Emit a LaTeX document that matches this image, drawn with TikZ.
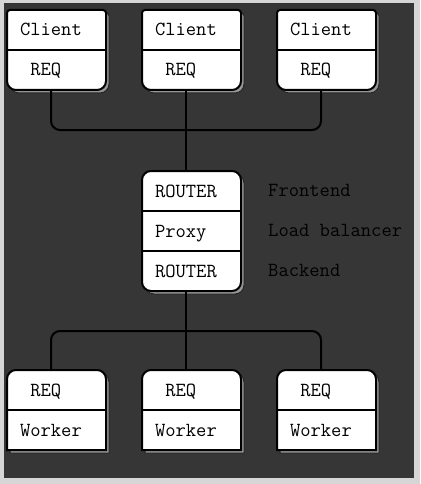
\documentclass[tikz,border=0pt]{standalone}
\usepackage{fontspec}
\usepackage{tikz}
\definecolor{panel}{HTML}{363636}
\definecolor{margin}{HTML}{D6D6D6}
\definecolor{drop}{HTML}{969696}
\tikzset{
  cell/.style={anchor=north west, inner xsep=13pt, inner ysep=0pt, outer sep=0pt,
    text width=73pt, align=left, minimum height=40pt, text height=12pt, text depth=0pt,
    font=\fontsize{20}{24}\selectfont\ttfamily},
  note/.style={anchor=base west, inner sep=0pt, font=\fontsize{20}{24}\selectfont\ttfamily},
  box/.style={fill=white, draw=black, line width=2pt,
    preaction={fill=drop, draw=black!85, line width=1pt, transform canvas={shift={(3pt,-3pt)}}}},
  rule/.style={draw=black, line width=2pt},
  wire/.style={draw=black, line width=2pt, rounded corners=9pt},
}

\begin{document}
\begin{tikzpicture}[x=1pt,y=-1pt]
\fill[margin] (0,0) rectangle (420,484);
\fill[panel] (4,4) rectangle (414,478);
\draw[black!80, line width=1pt] (4,4) -- (414,4);

% clients
\coordinate (c1) at (7,10);
\coordinate (c2) at (142,10);
\coordinate (c3) at (277,10);
\draw[box] (c1) ++(0,40) [rounded corners=3pt] -- ++(0,-40) -- ++(99,0) -- ++(0,40) [rounded corners=9pt] -- ++(0,40) -- ++(-99,0) -- cycle;
\draw[box] (c2) ++(0,40) [rounded corners=3pt] -- ++(0,-40) -- ++(99,0) -- ++(0,40) [rounded corners=9pt] -- ++(0,40) -- ++(-99,0) -- cycle;
\draw[box] (c3) ++(0,40) [rounded corners=3pt] -- ++(0,-40) -- ++(99,0) -- ++(0,40) [rounded corners=9pt] -- ++(0,40) -- ++(-99,0) -- cycle;
\node[cell] (c1a) at (c1) {Client};
\node[cell] (c1b) at (c1a.south west) {\phantom{C}REQ};
\node[cell] (c2a) at (c2) {Client};
\node[cell] (c2b) at (c2a.south west) {\phantom{C}REQ};
\node[cell] (c3a) at (c3) {Client};
\node[cell] (c3b) at (c3a.south west) {\phantom{C}REQ};
\draw[rule] (c1a.south west) -- (c1a.south east);
\draw[rule] (c2a.south west) -- (c2a.south east);
\draw[rule] (c3a.south west) -- (c3a.south east);

% router
\coordinate (r) at (142,171);
\draw[box, rounded corners=9pt] (r) rectangle ++(99,120);
\node[cell] (r1) at (r) {ROUTER};
\node[cell] (r2) at (r1.south west) {Proxy};
\node[cell] (r3) at (r2.south west) {ROUTER};
\draw[rule] (r1.south west) -- (r1.south east);
\draw[rule] (r2.south west) -- (r2.south east);
\node[note] (fe) at (268,196.5) {Frontend};
\node[note] (lb) at (268,236.5) {Load balancer};
\node[note] (be) at (268,276.5) {Backend};

% workers
\coordinate (w1) at (7,370);
\coordinate (w2) at (142,370);
\coordinate (w3) at (277,370);
\draw[box] (w1) ++(0,40) [rounded corners=9pt] -- ++(0,-40) -- ++(99,0) -- ++(0,40) [sharp corners] -- ++(0,40) -- ++(-99,0) -- cycle;
\draw[box] (w2) ++(0,40) [rounded corners=9pt] -- ++(0,-40) -- ++(99,0) -- ++(0,40) [sharp corners] -- ++(0,40) -- ++(-99,0) -- cycle;
\draw[box] (w3) ++(0,40) [rounded corners=9pt] -- ++(0,-40) -- ++(99,0) -- ++(0,40) [sharp corners] -- ++(0,40) -- ++(-99,0) -- cycle;
\node[cell] (w1a) at (w1) {\phantom{C}REQ};
\node[cell] (w1b) at (w1a.south west) {Worker};
\node[cell] (w2a) at (w2) {\phantom{C}REQ};
\node[cell] (w2b) at (w2a.south west) {Worker};
\node[cell] (w3a) at (w3) {\phantom{C}REQ};
\node[cell] (w3b) at (w3a.south west) {Worker};
\draw[rule] (w1a.south west) -- (w1a.south east);
\draw[rule] (w2a.south west) -- (w2a.south east);
\draw[rule] (w3a.south west) -- (w3a.south east);

% wires
\coordinate (upbus) at (186,130);
\coordinate (lowbus) at (186,331);
\draw[wire] ([xshift=-5.5pt]c1b.south) |- (upbus) -| ([xshift=-5.5pt]c3b.south);
\draw[wire] ([xshift=-5.5pt]c2b.south) -- ([xshift=-5.5pt]r1.north);
\draw[wire] ([xshift=-5.5pt]r3.south) -- ([xshift=-5.5pt]w2a.north);
\draw[wire] ([xshift=-5.5pt]w1a.north) |- (lowbus) -| ([xshift=-5.5pt]w3a.north);
\end{tikzpicture}
\end{document}
